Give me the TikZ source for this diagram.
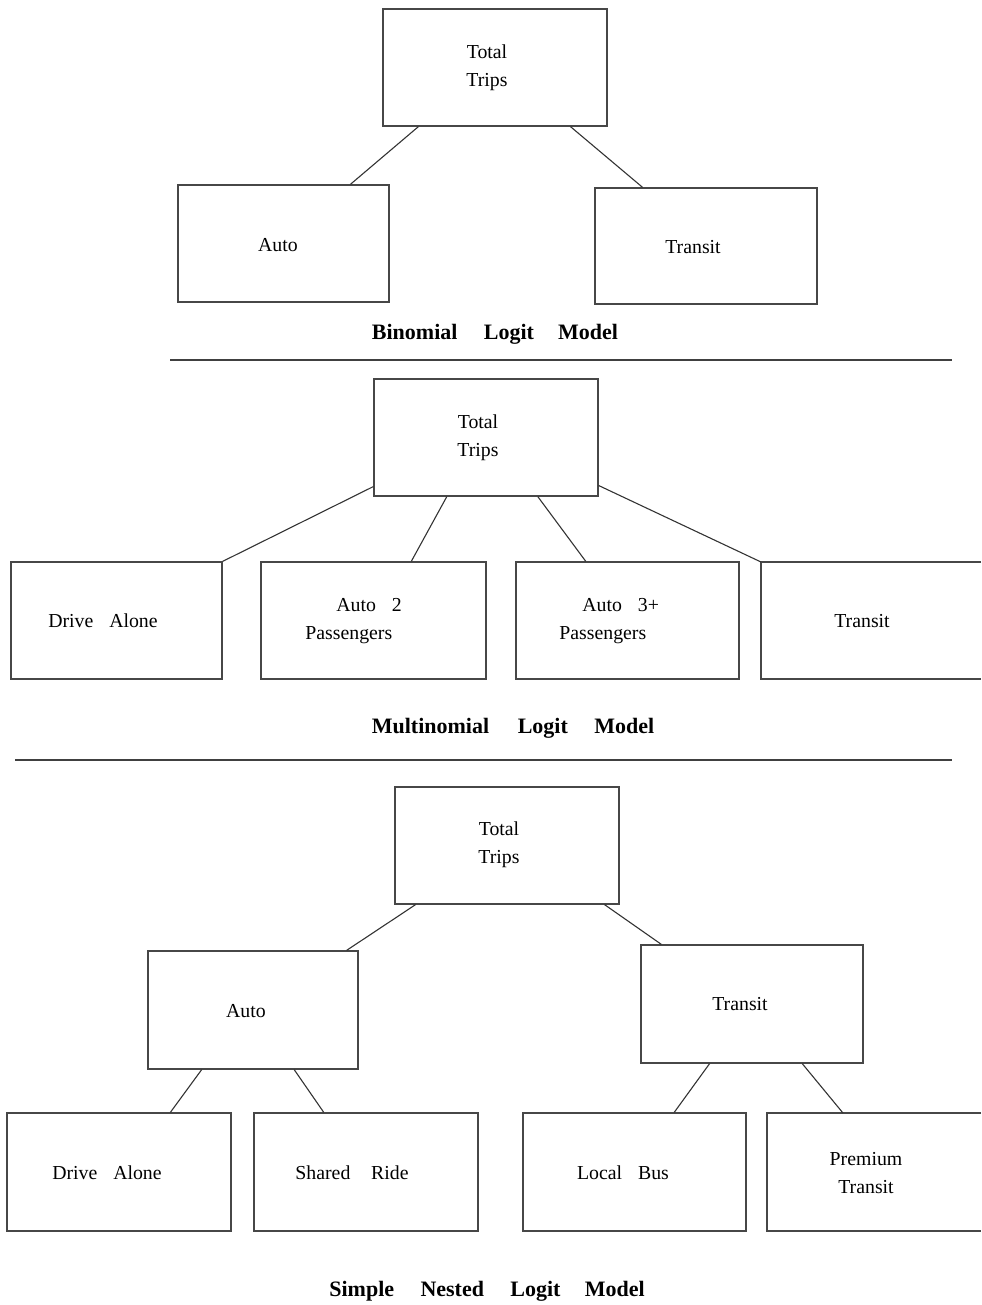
\documentclass[tikz,border=0pt]{standalone}
\usepackage{fontspec}
\setmainfont{Liberation Serif}
\usetikzlibrary{calc}

% one unit = one pixel of the 981 x 1305 layout
\newcommand{\treeedge}[4]{%
  \draw[edge] ($(#1.south west)!#2!(#1.south east)$) -- ($(#3.north west)!#4!(#3.north east)$);}
\newcommand{\gap}{\hspace{0.8em}}

\begin{document}
\begin{tikzpicture}[x=0.5pt,y=-0.5pt,
  box/.style={draw=black!72, line width=0.6pt, rectangle, inner sep=0pt},
  openbox/.style={rectangle, inner sep=0pt, outer sep=0pt},
  boxline/.style={draw=black!72, line width=0.7pt},
  lbl/.style={inner sep=0pt, font=\fontsize{9.9}{14}\selectfont, align=center},
  lbll/.style={inner sep=0pt, font=\fontsize{9.9}{14}\selectfont, align=left, anchor=west},
  ttl/.style={inner sep=0pt, font=\fontsize{11}{13}\selectfont\bfseries},
  edge/.style={draw=black!80, line width=0.55pt},
  rule/.style={draw=black!75, line width=0.6pt}]
\useasboundingbox (0,0) rectangle (981,1305);

% ---------- binomial logit ----------
\node[box, minimum width=112pt, minimum height=58.5pt] (tt1) at (495,67.5) {};
\node[box, minimum width=105.5pt, minimum height=58.5pt] (a1) at (283.5,243.5) {};
\node[box, minimum width=111pt, minimum height=58pt] (t1) at (706,246) {};
\node[lbl] (tt1l) at (487,68) {Total\\Trips};
\node[lbl] (a1l) at (278,245) {Auto};
\node[lbl] (t1l) at (693,247) {Transit};
\treeedge{tt1}{0.16}{a1}{0.815}
\treeedge{tt1}{0.835}{t1}{0.216}
\node[ttl] (title1) at (495,334) {Binomial\hspace{1.2em}Logit\hspace{1.1em}Model};
\coordinate (r1a) at (170,360);
\coordinate (r1b) at (952,360);
\draw[rule] (r1a) -- (r1b);

% ---------- multinomial logit ----------
\node[box, minimum width=112pt, minimum height=58.5pt] (tt2) at (486,437.5) {};
\node[box, minimum width=105.5pt, minimum height=58.5pt] (da2) at (116.5,620.5) {};
\node[box, minimum width=112.5pt, minimum height=58.5pt] (a22) at (373.5,620.5) {};
\node[box, minimum width=111.5pt, minimum height=58.5pt] (a32) at (627.5,620.5) {};
\node[openbox, minimum width=110pt, minimum height=58.5pt] (tr2) at (871,620.5) {};
\draw[boxline] (tr2.north east) -- (tr2.north west) -- (tr2.south west) -- (tr2.south east);
\node[lbl] (tt2l) at (478,438) {Total\\Trips};
\node[lbl] (da2l) at (103,621) {Drive\gap Alone};
\node[lbll] (a22l) at (305,621) {\hspace*{15.5pt}Auto\gap 2\\Passengers};
\node[lbll] (a32l) at (559,621) {\hspace*{11.5pt}Auto\gap 3+\\Passengers};
\node[lbl] (tr2l) at (862,621) {Transit};
\draw[edge] ($(tt2.south west)!0.085!(tt2.north west)$) -- (da2.north east);
\treeedge{tt2}{0.326}{a22}{0.667}
\treeedge{tt2}{0.73}{a32}{0.314}
\draw[edge] ($(tt2.south east)!0.094!(tt2.north east)$) -- (tr2.north west);
\node[ttl] (title2) at (513,728) {Multinomial\hspace{1.3em}Logit\hspace{1.2em}Model};
\coordinate (r2a) at (15,760);
\coordinate (r2b) at (952,760);
\draw[rule] (r2a) -- (r2b);

% ---------- simple nested logit ----------
\node[box, minimum width=112pt, minimum height=58.5pt] (tt3) at (507,845.5) {};
\node[box, minimum width=105pt, minimum height=59pt] (au3) at (253,1010) {};
\node[box, minimum width=111pt, minimum height=59pt] (tr3) at (752,1004) {};
\node[box, minimum width=112pt, minimum height=59pt] (da3) at (119,1172) {};
\node[box, minimum width=112pt, minimum height=59pt] (sr3) at (366,1172) {};
\node[box, minimum width=111.5pt, minimum height=59pt] (lb3) at (634.5,1172) {};
\node[openbox, minimum width=107pt, minimum height=59pt] (pt3) at (874,1172) {};
\draw[boxline] (pt3.north east) -- (pt3.north west) -- (pt3.south west) -- (pt3.south east);
\node[lbl] (tt3l) at (499,845) {Total\\Trips};
\node[lbl] (au3l) at (246,1011) {Auto};
\node[lbl] (tr3l) at (740,1004) {Transit};
\node[lbl] (da3l) at (107,1173) {Drive\gap Alone};
\node[lbl] (sr3l) at (352,1173) {Shared\hspace{1.05em}Ride};
\node[lbl] (lb3l) at (623,1173) {Local\gap Bus};
\node[lbl] (pt3l) at (866,1173) {Premium\\Transit};
\treeedge{tt3}{0.094}{au3}{0.943}
\treeedge{tt3}{0.933}{tr3}{0.094}
\treeedge{au3}{0.257}{da3}{0.728}
\treeedge{au3}{0.695}{sr3}{0.3125}
\treeedge{tr3}{0.31}{lb3}{0.677}
\treeedge{tr3}{0.725}{pt3}{0.355}
\node[ttl] (title3) at (487,1291) {Simple\hspace{1.2em}Nested\hspace{1.2em}Logit\hspace{1.1em}Model};
\end{tikzpicture}
\end{document}
